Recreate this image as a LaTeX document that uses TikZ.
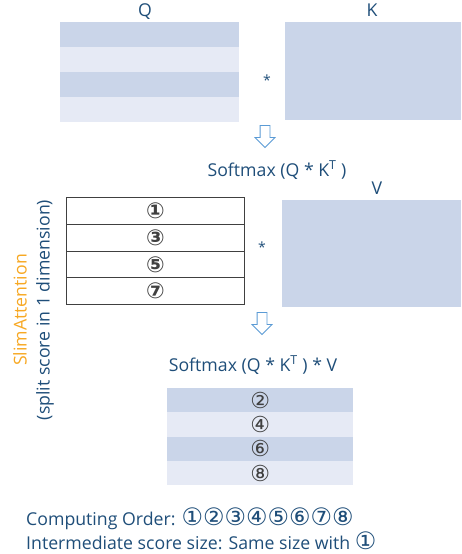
\documentclass[tikz,border=0pt]{standalone}
\usepackage{fontspec}
\setmainfont{Open Sans}
\newfontfamily\circfont{DejaVu Sans}
\usetikzlibrary{shapes.arrows}
\definecolor{rowdark}{HTML}{CAD5E9}
\definecolor{rowlight}{HTML}{E6EAF5}
\definecolor{txtblue}{HTML}{1F4E79}
\definecolor{slimorange}{HTML}{F7A823}
\definecolor{arrowblue}{HTML}{5B9BD5}
\definecolor{cellgray}{HTML}{404040}
\newcommand{\circnum}[1]{{\circfont\fontsize{24}{24}\selectfont #1}}
\tikzset{
  lbl/.style={text=txtblue, font=\fontsize{17.7}{20}\selectfont, inner sep=0pt},
  star/.style={text=txtblue, font=\fontsize{14}{16}\selectfont, inner sep=0pt},
  cell/.style={anchor=north west, inner sep=0pt, text=cellgray, font=\circfont\bfseries\fontsize{22}{22}\selectfont},
  downarrow/.style={single arrow, draw=arrowblue, fill=white, thick, shape border rotate=270,
    minimum height=22pt, minimum width=19pt, inner sep=4.5pt, single arrow head extend=5pt}
}
\begin{document}
\begin{tikzpicture}[x=1pt,y=-1pt]
\useasboundingbox (0,0) rectangle (461,554);

% Q matrix
\foreach \i/\c in {0/rowdark,1/rowlight,2/rowdark,3/rowlight}
  \node[cell, fill=\c, minimum width=179pt, minimum height=25pt] (q\i) at (60,22+25*\i) {};
\node[lbl] (qlbl) at (145,12) {Q};

% K matrix
\node[cell, fill=rowdark, minimum width=176pt, minimum height=98pt] (kmat) at (285,22) {};
\node[lbl] (klbl) at (372,10) {K};
\node[star] (star1) at (267,80) {*};

\node[downarrow] (arr1) at (265,134) {};
\node[lbl] (soft1) at (277,170) {Softmax (Q * K\textsuperscript{T} )};

% V matrix
\node[cell, fill=rowdark, minimum width=179pt, minimum height=107pt] (vmat) at (282,200) {};
\node[lbl] (vlbl) at (377,188) {V};

% split score rows
\foreach \i/\n in {0/①,1/③,2/⑤,3/⑦}
  \node[cell, draw=cellgray, line width=0.9pt, minimum width=178pt, minimum height=26.75pt] (s\i) at (66,197+26.75*\i) {\n};
\node[star] (star2) at (262,247) {*};

\node[downarrow] (arr2) at (262,321) {};
\node[lbl] (soft2) at (253,365) {Softmax (Q * K\textsuperscript{T} ) * V};

% output rows
\foreach \i/\c/\n in {0/rowdark/②,1/rowlight/④,2/rowdark/⑥,3/rowlight/⑧}
  \node[cell, font=\circfont\fontsize{22}{22}\selectfont, fill=\c, minimum width=186pt, minimum height=24.25pt] (o\i) at (167,388+24.25*\i) {\n};

% side labels
\node[lbl, text=slimorange, rotate=90] (slim) at (20,310) {SlimAttention};
\node[lbl, rotate=90] (split) at (45,310) {(split score in 1 dimension)};

% notes
\node[lbl, anchor=west] (order) at (26,519) {Computing Order: \circnum{①②③④⑤⑥⑦⑧}};
\node[lbl, anchor=west] (size) at (26,541) {Intermediate score size: Same size with \circnum{①}};

\end{tikzpicture}
\end{document}
